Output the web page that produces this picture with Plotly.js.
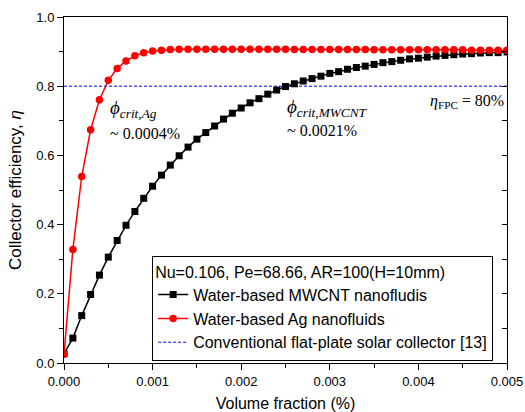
<!DOCTYPE html>
<html>
<head>
<meta charset="utf-8">
<script src="https://cdn.plot.ly/plotly-3.0.1.min.js"></script>
<style>html,body{margin:0;padding:0;background:#fff;}#chart{width:525px;height:412px;}</style>
</head>
<body>
<div id="chart"></div>
<script>
// Volume fraction (%) sample points
const volumeFraction = [
  0.0000,0.0001,0.0002,0.0003,0.0004,0.0005,0.0006,0.0007,0.0008,0.0009,
  0.0010,0.0011,0.0012,0.0013,0.0014,0.0015,0.0016,0.0017,0.0018,0.0019,
  0.0020,0.0021,0.0022,0.0023,0.0024,0.0025,0.0026,0.0027,0.0028,0.0029,
  0.0030,0.0031,0.0032,0.0033,0.0034,0.0035,0.0036,0.0037,0.0038,0.0039,
  0.0040,0.0041,0.0042,0.0043,0.0044,0.0045,0.0046,0.0047,0.0048,0.0049,
  0.0050
];
// Water-based MWCNT nanofluids
const mwcntEff = [
  0.027,0.072,0.137,0.198,0.254,0.306,0.354,0.398,0.438,0.476,
  0.511,0.543,0.572,0.599,0.624,0.647,0.666,0.685,0.705,0.722,
  0.737,0.752,0.764,0.777,0.789,0.799,0.807,0.815,0.822,0.829,
  0.837,0.842,0.849,0.854,0.858,0.863,0.868,0.871,0.875,0.879,
  0.881,0.884,0.887,0.889,0.891,0.893,0.894,0.896,0.897,0.897,
  0.899
];
// Water-based Ag nanofluids
const agEff = [
  0.025,0.328,0.539,0.674,0.761,0.817,0.851,0.873,0.888,0.897,
  0.902,0.904,0.906,0.907,0.907,0.907,0.907,0.907,0.907,0.907,
  0.907,0.907,0.907,0.907,0.907,0.907,0.906,0.906,0.906,0.906,
  0.906,0.906,0.906,0.906,0.906,0.905,0.905,0.905,0.905,0.905,
  0.905,0.905,0.905,0.905,0.905,0.905,0.904,0.904,0.904,0.904,
  0.904
];
// Conventional flat-plate solar collector
const fpcX = [0.0, 0.005];
const fpcEff = [0.8, 0.8];

const traces = [
  {x: fpcX, y: fpcEff, mode: 'lines', name: 'Conventional flat-plate solar collector [13]',
   line: {color: '#0000ff', width: 1, dash: '3px,2px'}, legendrank: 3},
  {x: volumeFraction, y: mwcntEff, mode: 'lines+markers', name: 'Water-based MWCNT nanofludis',
   line: {color: '#000', width: 1.5}, marker: {symbol: 'square', size: 7, color: '#000'}, legendrank: 1},
  {x: volumeFraction, y: agEff, mode: 'lines+markers', name: 'Water-based Ag nanofluids',
   line: {color: '#ff0000', width: 1.5}, marker: {symbol: 'circle', size: 7.5, color: '#ff0000'}, legendrank: 2},
  {x: [], y: [], yaxis: 'y2', showlegend: false, hoverinfo: 'skip'}
];

const tnr = 'Liberation Serif, Times New Roman, serif';
const layout = {
  width: 525, height: 412,
  margin: {l: 64, r: 18, t: 17, b: 49},
  paper_bgcolor: '#fff', plot_bgcolor: '#fff',
  font: {family: 'Liberation Sans, Arial, sans-serif', size: 13, color: '#000'},
  showlegend: true,
  legend: {
    x: 0.199, y: 0.006, xanchor: 'left', yanchor: 'bottom',
    bgcolor: '#fff', bordercolor: '#000', borderwidth: 1,
    font: {size: 16, color: '#000'},
    title: {text: 'Nu=0.106, Pe=68.66, AR=100(H=10mm)', font: {size: 16, color: '#000'}},
    tracegroupgap: 0
  },
  xaxis: {
    range: [0, 0.005], tickvals: [0, 0.001, 0.002, 0.003, 0.004, 0.005],
    ticktext: ['0.000','0.001','0.002','0.003','0.004','0.005'],
    ticks: 'outside', ticklen: 6, tickwidth: 1, tickcolor: '#000',
    minor: {dtick: 0.0005, tick0: 0, ticks: 'outside', ticklen: 4, tickcolor: '#000'},
    showline: true, linecolor: '#000', linewidth: 1, mirror: true,
    showgrid: false, zeroline: false,
    tickfont: {size: 13},
    title: {text: 'Volume fraction (%)', font: {size: 16}, standoff: 14}
  },
  yaxis: {
    range: [0, 1.0], dtick: 0.2, tick0: 0, tickformat: '.1f',
    ticks: 'outside', ticklen: 6, tickwidth: 1, tickcolor: '#000',
    minor: {dtick: 0.1, tick0: 0, ticks: 'outside', ticklen: 4, tickcolor: '#000'},
    showline: true, linecolor: '#000', linewidth: 1, mirror: true,
    showgrid: false, zeroline: false,
    tickfont: {size: 13},
    title: {text: 'Collector efficiency, <i>η</i>', font: {size: 17}, standoff: 10}
  },
  yaxis2: {
    overlaying: 'y', side: 'right', range: [0, 1.0], dtick: 0.1, tick0: 0,
    ticks: 'inside', ticklen: 5, tickcolor: '#000', showticklabels: false,
    showgrid: false, zeroline: false, showline: false
  },
  annotations: [
    {x: 0.000495, y: 0.735, xref: 'x', yref: 'y', xanchor: 'left', yanchor: 'middle', showarrow: false,
     text: '<i>ϕ<sub>crit</sub></i><sub>,<i>Ag</i></sub>', font: {family: tnr, size: 19}},
    {x: 0.000495, y: 0.663, xref: 'x', yref: 'y', xanchor: 'left', yanchor: 'middle', showarrow: false,
     text: '~ 0.0004%', font: {family: tnr, size: 16}},
    {x: 0.00249, y: 0.738, xref: 'x', yref: 'y', xanchor: 'left', yanchor: 'middle', showarrow: false,
     text: '<i>ϕ<sub>crit</sub></i><sub>,<i>MWCNT</i></sub>', font: {family: tnr, size: 19}},
    {x: 0.00249, y: 0.672, xref: 'x', yref: 'y', xanchor: 'left', yanchor: 'middle', showarrow: false,
     text: '~ 0.0021%', font: {family: tnr, size: 16}},
    {x: 0.00499, y: 0.757, xref: 'x', yref: 'y', xanchor: 'right', yanchor: 'middle', showarrow: false,
     text: '<i>η</i><sub>FPC</sub> = 80%', font: {family: tnr, size: 16}}
  ]
};

Plotly.newPlot('chart', traces, layout, {displayModeBar: false, staticPlot: true});
</script>
</body>
</html>
